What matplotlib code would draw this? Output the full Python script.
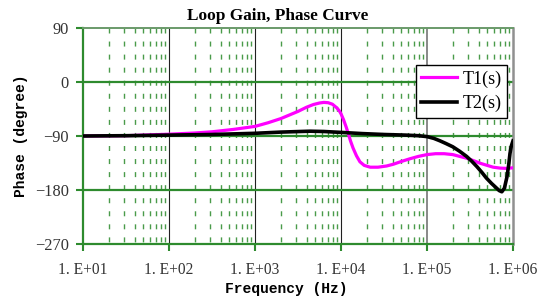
import numpy as np
import matplotlib
matplotlib.use("Agg")
import matplotlib.pyplot as plt

# log10 of frequency (Hz) and phase (degree)
t1_logf = [1.0, 1.5, 2.0, 2.3, 2.5, 2.75, 3.0, 3.15, 3.3, 3.4, 3.5, 3.6, 3.68, 3.75,
           3.8, 3.85, 3.9, 3.95, 3.98, 4.0, 4.03, 4.06, 4.085, 4.11, 4.14, 4.18, 4.22,
           4.27, 4.34, 4.43, 4.53, 4.61, 4.69, 4.8, 4.9, 5.0, 5.1, 5.2, 5.3, 5.38, 5.46,
           5.54, 5.62, 5.7, 5.77, 5.85, 5.93, 6.0]
t1_phase = [-90, -89.5, -87, -85, -83, -79, -74, -68, -61, -55, -49, -42, -37.5, -35,
            -34, -34.5, -37, -43, -48, -53, -63, -75, -86, -98, -110, -123, -133,
            -139, -142, -142, -140, -137, -133, -128, -124, -121, -119.5, -119.5, -121,
            -124, -127, -131, -135.5, -139, -142, -143.5, -144, -143]

t2_logf = [1.0, 1.5, 2.0, 2.5, 3.0, 3.3, 3.64, 3.8, 4.0, 4.25, 4.5, 4.75, 4.9, 5.0,
           5.08, 5.15, 5.22, 5.3, 5.38, 5.46, 5.52, 5.58, 5.64, 5.69, 5.75, 5.81, 5.84,
           5.87, 5.9, 5.93, 5.95, 5.965, 5.98, 6.0]
t2_phase = [-90, -89.5, -88.5, -87.5, -85.5, -83.5, -82, -82.5, -84, -86, -87.5, -88.5,
            -89.5, -91, -94, -98, -102.5, -108, -115.5, -124, -132, -141, -151, -160,
            -169, -177, -181, -183, -177, -158, -138, -119, -107, -98]

x_ticks = [1e1, 1e2, 1e3, 1e4, 1e5, 1e6]
x_ticklabels = ["1. E+01", "1. E+02", "1. E+03", "1. E+04", "1. E+05", "1. E+06"]
y_ticks = [90, 0, -90, -180, -270]
y_ticklabels = ["90", "0", "\u221290", "\u2212180", "\u2212270"]

serif = "Liberation Serif"
mono = "Liberation Mono"

fig = plt.figure(figsize=(5.38, 3.01), dpi=100)
ax = fig.add_axes([83/538, 1-244/301, 430/538, 216/301])
ax.set_xscale("log")
ax.set_xlim(1e1, 1e6)
ax.set_ylim(-270, 90)

# minor dashed green grid
for dec in range(1, 6):
    for m in range(2, 10):
        xv = m * 10**dec
        ax.plot([xv, xv], [90, -270], color="#2a8a2a", lw=1.0,
                linestyle=(0, (3.6, 5.8)), zorder=1, alpha=0.85)
# decade verticals
for xv in [1e2, 1e3, 1e4]:
    ax.plot([xv, xv], [90, -270], color="#202020", lw=0.8, zorder=1.5)
ax.plot([1e5, 1e5], [90, -270], color="#808080", lw=1.3, zorder=1.5)
# horizontal major grid
for yv in [0, -90, -180]:
    ax.axhline(yv, color="#2e8b2e", lw=1.6, zorder=1.6)

ax.plot(np.power(10.0, t1_logf), t1_phase, color="#ff00ff", lw=2.3, label="T1(s)", zorder=3)
ax.plot(np.power(10.0, t2_logf), t2_phase, color="black", lw=2.6, label="T2(s)", zorder=3)

ax.spines["left"].set_color("#2e8b2e")
ax.spines["bottom"].set_color("#2e8b2e")
ax.spines["top"].set_color("#6a9a6a")
ax.spines["right"].set_color("#909090")
ax.spines["left"].set_linewidth(1.6)
ax.spines["bottom"].set_linewidth(1.6)
ax.spines["top"].set_linewidth(1.4)
ax.spines["right"].set_linewidth(1.8)

ax.set_xticks(x_ticks)
ax.set_xticklabels(x_ticklabels, fontfamily=serif, fontsize=11.2, color="#333333")
ax.set_yticks(y_ticks)
ax.set_yticklabels(y_ticklabels, fontfamily=serif, fontsize=11.8, color="#333333")
ax.xaxis.set_minor_locator(matplotlib.ticker.NullLocator())
ax.tick_params(axis="both", which="major", color="#2e8b2e", length=5, width=1.5)
ax.tick_params(axis="x", pad=8)
ax.tick_params(axis="y", pad=5)

ax.set_title("Loop Gain, Phase Curve", fontfamily=serif, fontweight="bold",
             fontsize=12.4, pad=5.5, x=(278-83)/430)
ax.set_xlabel("Frequency (Hz)", fontfamily=mono, fontweight="bold", fontsize=10.5, labelpad=3)
ax.xaxis.label.set_x((286-83)/430)
ax.set_ylabel("Phase (degree)", fontfamily=mono, fontweight="bold", fontsize=10.5, labelpad=5)

leg = ax.legend(loc="upper right", bbox_to_anchor=(507/538, 1-65/301),
                bbox_transform=fig.transFigure, prop={"family": serif, "size": 13},
                fancybox=False, framealpha=1, edgecolor="black", handlelength=2.0,
                borderpad=0.3, labelspacing=0.4, handletextpad=0.3, borderaxespad=0)
leg.get_frame().set_linewidth(1.0)

fig.savefig("out.png", dpi=100)
